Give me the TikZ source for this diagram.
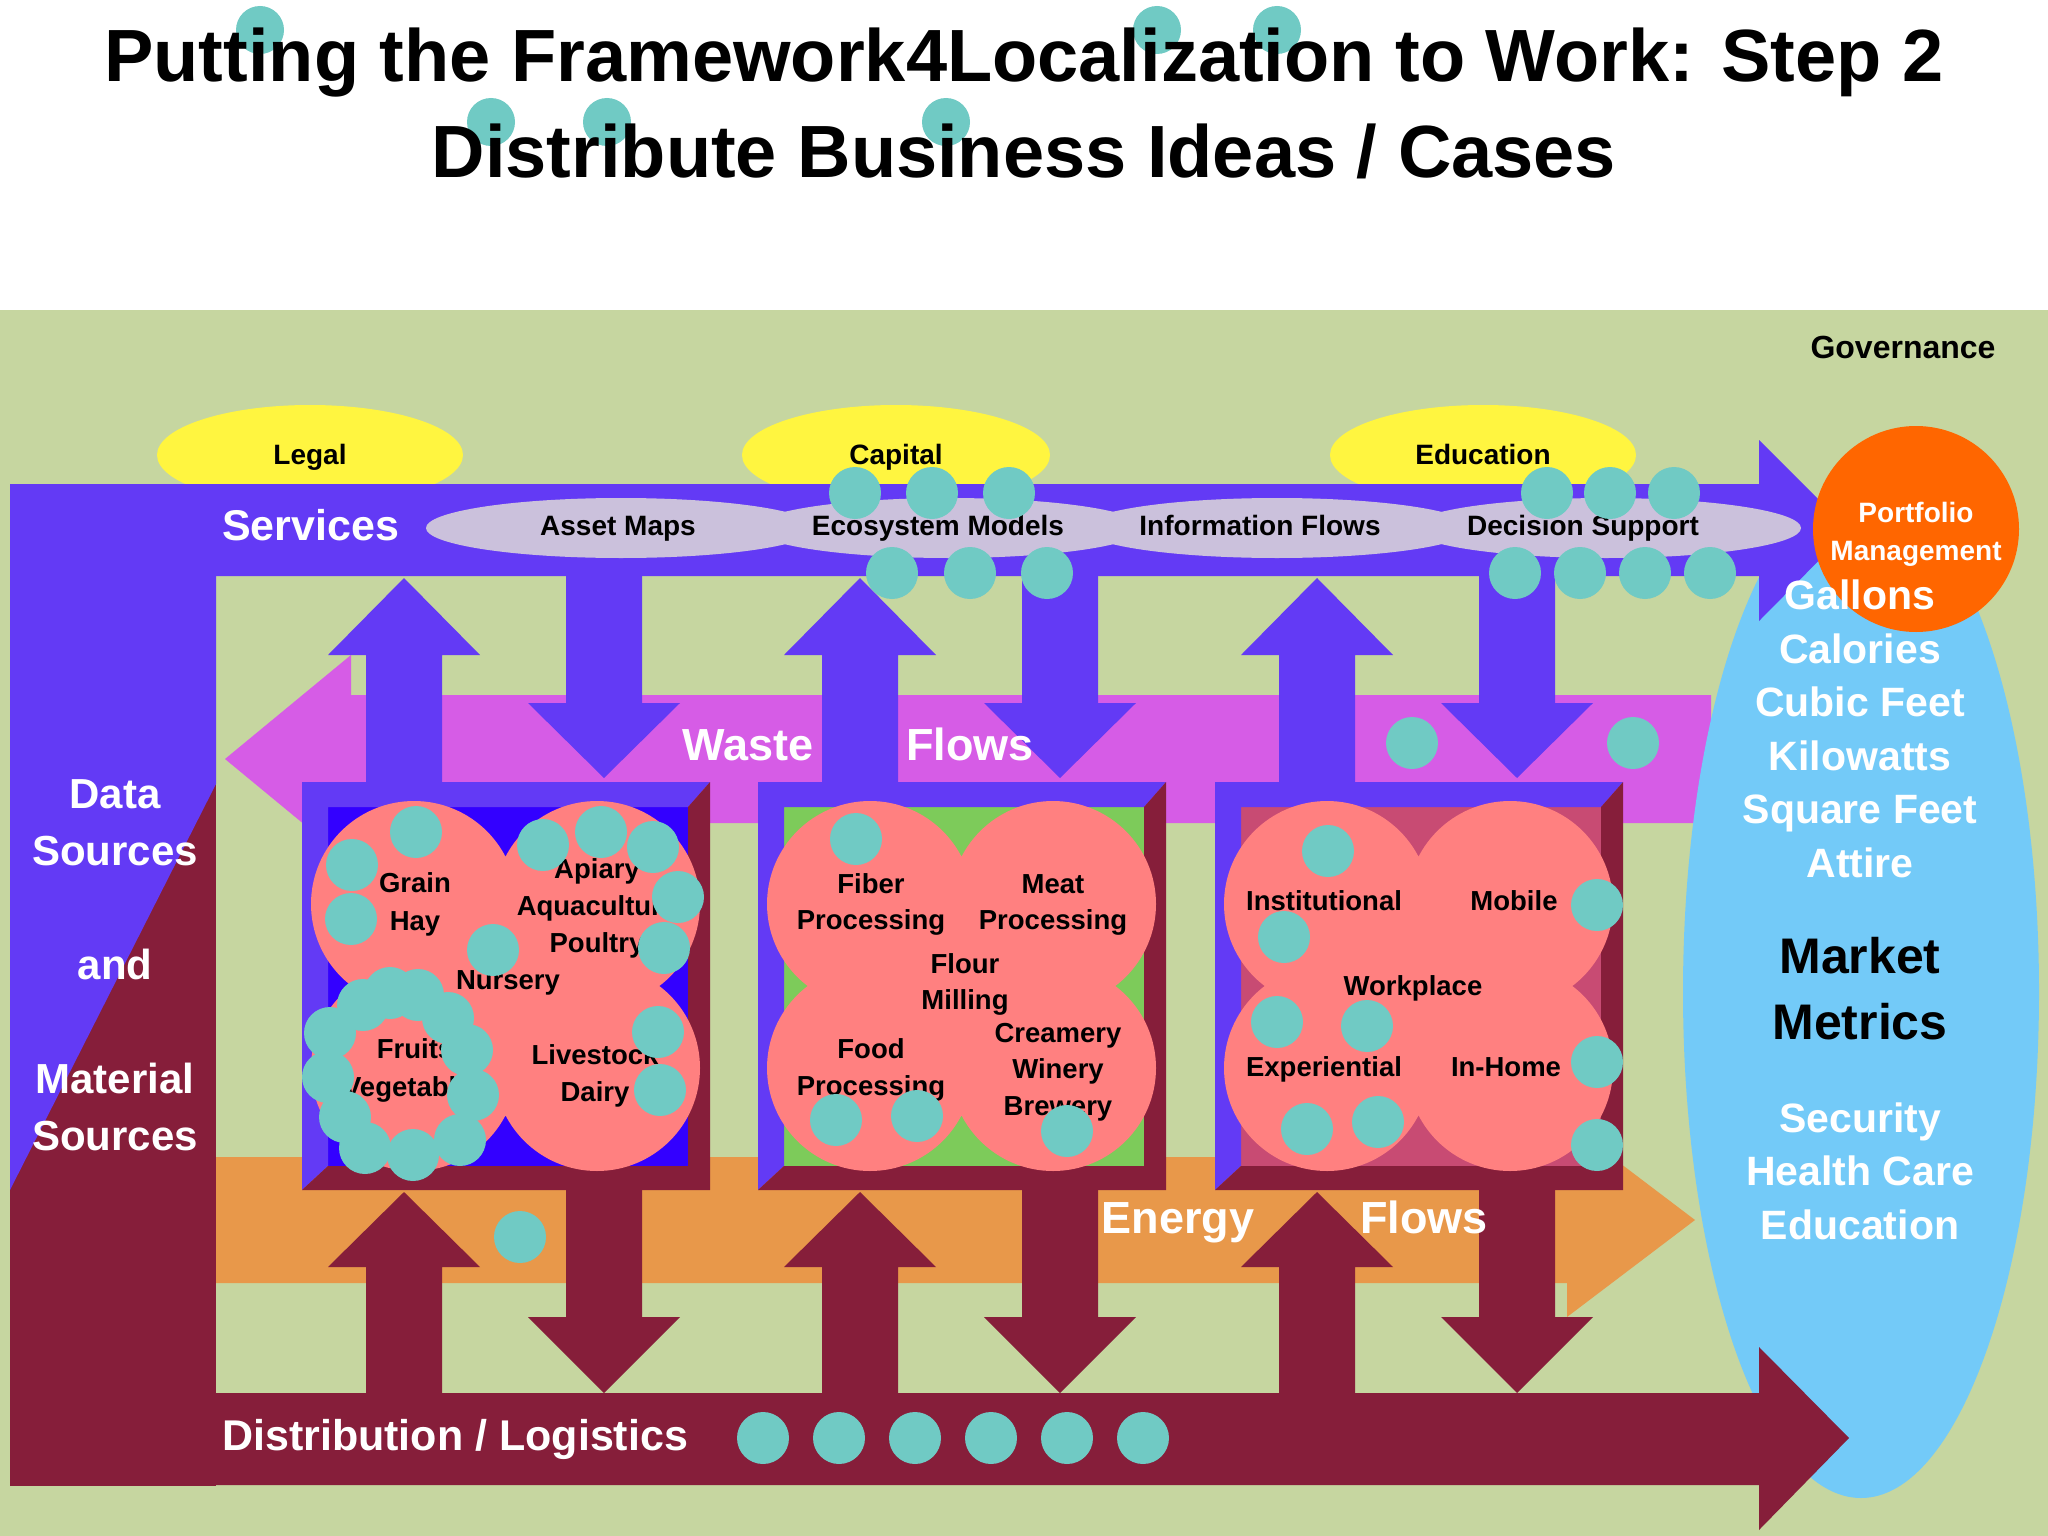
\documentclass[tikz,border=0pt]{standalone}
\usepackage{fontspec}
\setmainfont{Liberation Sans}
\newcommand\fpx[1]{\fontsize{#1pt}{#1pt}\selectfont\bfseries}
\newcommand\vArrow[4]{(#1-38,#2)--(#1-38,#3)--(#1-76,#3)--(#1,#4)--(#1+76,#3)--(#1+38,#3)--(#1+38,#2)--cycle}
\definecolor{bggreen}{RGB}{198,214,160}
\definecolor{svpurple}{RGB}{99,58,245}
\definecolor{maroonx}{RGB}{134,30,58}
\definecolor{wmag}{RGB}{214,92,230}
\definecolor{enorange}{RGB}{232,152,74}
\definecolor{lav}{RGB}{203,193,220}
\definecolor{skyb}{RGB}{115,202,248}
\definecolor{salmonx}{RGB}{255,128,128}
\definecolor{tealx}{RGB}{112,202,196}
\definecolor{yel}{RGB}{255,245,64}
\definecolor{porange}{RGB}{255,102,0}
\definecolor{boxa}{RGB}{51,0,255}
\definecolor{boxb}{RGB}{125,203,90}
\definecolor{boxc}{RGB}{200,75,115}
\newcommand\bizbox[2]{%
\begin{scope}[shift={(#1,782)}]
 \fill[#2] (26,25) rectangle (386,384);
 \fill[svpurple] (0,0)--(408,0)--(386,25)--(26,25)--(26,384)--(0,408)--cycle;
 \fill[maroonx] (408,0)--(408,408)--(0,408)--(26,384)--(386,384)--(386,25)--cycle;
 \fill[salmonx] (112,122) circle (103pt) (295,122) circle (103pt) (112,286) circle (103pt) (295,286) circle (103pt) (204,204) circle (90pt);
\end{scope}}
\begin{document}
\begin{tikzpicture}[x=1pt,y=-1pt,
  lbl/.style={inner sep=0pt, anchor=base, text=black, font=\fpx{28}},
  wlbl/.style={inner sep=0pt, anchor=base, text=white},
  boxtxt/.style={inner sep=0pt, anchor=base, text=black, font=\fpx{27.5}},
  mtxt/.style={inner sep=0pt, anchor=base, text=white, font=\fpx{41}}]
\useasboundingbox (0,0) rectangle (2048,1536);
\fill[white] (0,0) rectangle (2048,1536);
\fill[bggreen] (0,310) rectangle (2048,1536);
% title
\foreach \p in {(260,30),(1157,30),(1277,30),(491,122),(607,122),(946,122)} \fill[tealx] \p circle (24pt);
\node[inner sep=0pt, anchor=base, font=\fpx{74}] (title1) at (1024,82) {Putting the Framework4Localization to Work: Step 2};
\node[inner sep=0pt, anchor=base, font=\fpx{74}] (title2) at (1024,178) {Distribute Business Ideas / Cases};
\node[lbl, font=\fpx{32}] (gov) at (1903,358) {Governance};
% yellow ellipses
\fill[yel] (310,455) ellipse (153pt and 50pt);
\fill[yel] (896,455) ellipse (154pt and 50pt);
\fill[yel] (1483,455) ellipse (153pt and 50pt);
\node[lbl] (legal) at (310,464) {Legal};
\node[lbl] (capital) at (896,464) {Capital};
\node[lbl] (educ) at (1483,464) {Education};
% waste and energy bars
\fill[wmag] (225,759)--(351,655)--(351,695)--(1711,695)--(1711,823)--(351,823)--(351,863)--cycle;
\fill[enorange] (216,1157)--(1567,1157)--(1567,1123)--(1695,1220)--(1567,1317)--(1567,1283)--(216,1283)--cycle;
% market metrics ellipse
\fill[skyb] (1861,992) ellipse (178pt and 506pt);
% left column
\fill[maroonx] (10,484) rectangle (216,1486);
\fill[svpurple] (10,484)--(216,484)--(216,784)--(10,1190)--cycle;
% services bar
\fill[svpurple] (216,484)--(1759,484)--(1759,440)--(1849,530)--(1759,621)--(1759,576)--(216,576)--cycle;
\foreach \cx in {621,949,1277,1606} \fill[lav] (\cx,528) ellipse (195pt and 30pt);
\node[wlbl, font=\fpx{43}, anchor=base west] (services) at (222,540) {Services};
\node[lbl] (asset) at (618,535) {Asset Maps};
\node[lbl] (eco) at (938,535) {Ecosystem Models};
\node[lbl] (info) at (1260,535) {Information Flows};
\node[lbl] (dec) at (1583,535) {Decision Support};
% vertical arrows
\foreach \c in {404,860,1317} {
  \fill[svpurple] \vArrow{\c}{782}{655}{578};
  \fill[maroonx] \vArrow{\c}{1393}{1267}{1192};
}
\foreach \c in {604,1060,1517} {
  \fill[svpurple] \vArrow{\c}{576}{703}{778};
  \fill[maroonx] \vArrow{\c}{1190}{1317}{1393};
}
% distribution bar
\fill[maroonx] (216,1393)--(1759,1393)--(1759,1347)--(1849,1438)--(1759,1530)--(1759,1485)--(216,1485)--cycle;
\node[wlbl, font=\fpx{43}, anchor=base west] (distr) at (222,1450) {Distribution / Logistics};
% boxes
\bizbox{302}{boxa}
\bizbox{758}{boxb}
\bizbox{1215}{boxc}
% box 1 texts
\node[boxtxt] (grain) at (415,892) {Grain};
\node[boxtxt] (hay) at (415,930) {Hay};
\node[boxtxt] (apiary) at (597,878) {Apiary};
\node[boxtxt] (aqua) at (597,915) {Aquaculture};
\node[boxtxt] (poultry) at (597,952) {Poultry};
\node[boxtxt] (nursery) at (508,989) {Nursery};
\node[boxtxt] (fruits) at (415,1058) {Fruits};
\node[boxtxt] (veg) at (415,1096) {Vegetables};
\node[boxtxt] (live) at (595,1064) {Livestock};
\node[boxtxt] (dairy) at (595,1101) {Dairy};
% box 2 texts
\node[boxtxt] (fiber) at (871,893) {Fiber};
\node[boxtxt] (fiberp) at (871,929) {Processing};
\node[boxtxt] (meat) at (1053,893) {Meat};
\node[boxtxt] (meatp) at (1053,929) {Processing};
\node[boxtxt] (flour) at (965,973) {Flour};
\node[boxtxt] (milling) at (965,1009) {Milling};
\node[boxtxt] (food) at (871,1058) {Food};
\node[boxtxt] (foodp) at (871,1095) {Processing};
\node[boxtxt] (cream) at (1058,1042) {Creamery};
\node[boxtxt] (winery) at (1058,1078) {Winery};
\node[boxtxt] (brew) at (1058,1115) {Brewery};
% box 3 texts
\node[boxtxt] (inst) at (1324,910) {Institutional};
\node[boxtxt] (mobile) at (1514,910) {Mobile};
\node[boxtxt] (work) at (1413,995) {Workplace};
\node[boxtxt] (exper) at (1324,1076) {Experiential};
\node[boxtxt] (inhome) at (1506,1076) {In-Home};
% teal dots
\foreach \p in {(855,493),(932,493),(1009,493),(892,573),(970,573),(1047,573),
  (1547,493),(1610,493),(1674,493),(1515,573),(1580,573),(1645,573),(1710,573),
  (1412,743),(1633,743),(520,1237),
  (763,1438),(839,1438),(915,1438),(991,1438),(1067,1438),(1143,1438),
  (416,832),(352,865),(351,919),(493,950),(543,845),(601,832),(653,847),(678,897),(664,948),(658,1032),(660,1090),
  (363,1005),(390,993),(418,995),(448,1018),(467,1050),(473,1095),(460,1140),(413,1155),(365,1148),(345,1117),(328,1077),(330,1033),
  (856,839),(836,1120),(917,1116),(1067,1131),
  (1328,851),(1284,937),(1597,905),(1277,1022),(1367,1026),(1597,1062),(1307,1129),(1378,1122),(1597,1145)}
  \fill[tealx] \p circle (26pt);
% portfolio circle
\fill[porange] (1916,529) circle (103pt);
\node[wlbl, font=\fpx{28}] (port1) at (1916,522) {Portfolio};
\node[wlbl, font=\fpx{28}] (port2) at (1916,560) {Management};
% metrics
\node[mtxt] (m1) at (1860,609) {Gallons};
\node[mtxt] (m2) at (1860,663) {Calories};
\node[mtxt] (m3) at (1860,716) {Cubic Feet};
\node[mtxt] (m4) at (1860,770) {Kilowatts};
\node[mtxt] (m5) at (1860,823) {Square Feet};
\node[mtxt] (m6) at (1860,877) {Attire};
\node[inner sep=0pt, anchor=base, font=\fpx{50}] (mk1) at (1860,973) {Market};
\node[inner sep=0pt, anchor=base, font=\fpx{50}] (mk2) at (1860,1039) {Metrics};
\node[mtxt] (s1) at (1860,1132) {Security};
\node[mtxt] (s2) at (1860,1185) {Health Care};
\node[mtxt] (s3) at (1860,1239) {Education};
% left column texts
\node[wlbl, font=\fpx{42}] (ds1) at (115,808) {Data};
\node[wlbl, font=\fpx{42}] (ds2) at (115,865) {Sources};
\node[wlbl, font=\fpx{42}] (ds3) at (115,979) {and};
\node[wlbl, font=\fpx{42}] (ds4) at (115,1093) {Material};
\node[wlbl, font=\fpx{42}] (ds5) at (115,1150) {Sources};
% flow labels
\node[wlbl, font=\fpx{45}] (waste) at (748,760) {Waste};
\node[wlbl, font=\fpx{45}] (wflows) at (970,760) {Flows};
\node[wlbl, font=\fpx{45}] (energy) at (1178,1233) {Energy};
\node[wlbl, font=\fpx{45}] (eflows) at (1424,1233) {Flows};
\end{tikzpicture}
\end{document}
